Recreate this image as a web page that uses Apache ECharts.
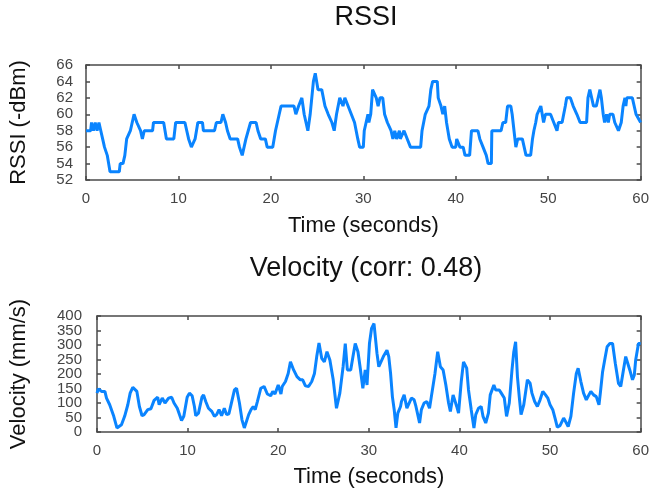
<!DOCTYPE html>
<html>
<head>
<meta charset="utf-8">
<script src="https://cdn.jsdelivr.net/npm/echarts@6/dist/echarts.min.js"></script>
<style>
html, body { margin:0; padding:0; background:#fff; }
#main { width:652px; height:493px; }
</style>
</head>
<body>
<div id="main"></div>
<script>
//RSSI数据 (时间, 值)
var rssiTime = [
	0,0.5,0.6,0.8,1.0,1.2,1.4,1.6,1.8,2.0,2.3,2.6,3.6,3.7,4.0,4.2,4.4,4.8,5.2,5.5,
	5.9,6.1,6.3,7.2,7.3,8.4,8.7,9.5,9.7,10.7,10.9,11.1,11.4,11.8,12.1,12.6,12.7,13.9,14.1,14.6,
	14.8,15.1,15.3,15.6,16.4,16.6,16.9,17.3,17.8,18.4,18.6,18.9,19.4,19.6,20.2,20.5,20.9,21.1,22.5,22.7,
	23.0,23.35,23.6,24.0,24.25,24.6,24.8,25.1,25.5,25.85,26.2,26.6,26.85,27.1,27.45,27.8,28.0,28.35,28.7,29.05,
	29.4,29.6,30.0,30.1,30.3,30.5,30.6,30.8,31.0,31.2,31.4,31.6,31.8,32.1,32.3,32.6,33.0,33.2,33.4,33.6,
	33.9,34.0,34.4,34.75,35.1,36.2,36.35,36.7,37.1,37.3,37.5,38.0,38.1,38.4,38.6,38.8,39.0,39.3,39.6,40.0,
	40.1,40.45,40.8,41.0,41.5,41.7,42.4,42.6,42.95,43.3,43.5,43.85,43.9,44.9,45.1,45.4,45.6,45.95,46.1,46.3,
	46.5,46.7,47.2,47.4,47.6,48.1,48.3,48.45,48.65,48.8,49.2,49.5,49.7,50.25,50.6,50.95,51.1,51.5,51.85,52.0,
	52.4,52.7,53.1,53.45,54.15,54.3,54.5,54.9,55.2,55.6,55.75,55.95,56.1,56.3,56.5,56.65,57.0,57.2,57.35,57.6,
	57.9,58.1,58.3,58.4,58.5,59.1,59.5,60
];
var rssiValue = [
	58,58,59,58,59,58,59,58,57,56,55,53,53,54,54,55,57,58,60,59,
	58,57,58,58,59,59,57,57,59,59,58,57,56,57,59,59,58,58,59,59,
	60,59,58,57,57,56,55,57,59,59,58,57,57,56,56,58,60,61,61,60,
	61,62,60,58,60,64,65,63,63,61,60,59,58,60,62,61,62,61,60,59,
	57,56,56,58,59,60,59,60,63,63,62,61,62,62,60,59,58,57,58,57,
	58,57,58,57,56,56,58,60,61,63,64,64,62,61,60,61,59,57,56,56,
	57,56,56,55,55,58,58,57,56,55,54,54,58,58,59,59,61,61,60,58,
	56,57,57,56,55,55,57,58,59,60,61,59,60,60,59,58,59,59,61,62,
	62,61,60,59,59,62,63,61,61,63,62,60,59,60,59,60,60,59,59,58,
	59,61,62,61,62,62,60,59
];

//速度数据 (时间, mm/s)
var velTime = [
	0,0.15,0.33,0.5,0.87,1.05,1.4,1.6,1.85,2.2,2.32,2.7,3.05,3.4,3.66,3.95,4.13,4.4,4.68,4.97,
	5.2,5.6,5.95,6.3,6.7,6.86,7.2,7.5,7.9,8.24,8.5,8.86,9.1,9.33,9.58,9.95,10.2,10.5,10.75,10.9,
	11.2,11.58,11.76,12.0,12.3,12.67,12.96,13.2,13.47,13.75,14.05,14.3,14.56,14.8,15.17,15.4,15.72,16.0,16.26,16.4,
	16.74,17.0,17.24,17.46,17.7,18.08,18.44,18.8,19.17,19.4,19.64,20.0,20.3,20.44,20.8,21.1,21.35,21.7,22.07,22.44,
	22.7,23.0,23.35,23.7,24.0,24.25,24.5,24.8,25.09,25.38,25.7,26.07,26.43,26.8,27.16,27.4,27.63,28.0,28.25,28.5,
	28.8,29.08,29.34,29.6,29.8,30.07,30.3,30.57,30.9,31.1,31.3,31.6,32.0,32.2,32.4,32.6,32.8,33.0,33.2,33.5,
	33.6,33.9,34.2,34.4,34.7,35.0,35.2,35.4,35.6,35.8,36.1,36.4,36.7,36.9,37.3,37.6,37.7,37.9,38.2,38.5,
	38.8,39.0,39.3,39.5,39.7,39.9,40.2,40.45,40.8,41.0,41.3,41.6,41.8,42.1,42.4,42.6,42.9,43.2,43.4,43.8,
	44.0,44.4,44.6,44.95,45.2,45.5,45.8,46.0,46.2,46.4,46.6,46.8,47.1,47.5,47.8,48.0,48.3,48.6,48.9,49.2,
	49.5,49.75,50.0,50.3,50.6,50.8,51.1,51.5,51.8,52.0,52.3,52.6,52.9,53.1,53.4,53.7,54.0,54.2,54.5,54.8,
	55.1,55.4,55.55,55.8,56.1,56.3,56.6,56.9,57.2,57.55,57.8,58.1,58.35,58.55,58.8,59.1,59.3,59.45,59.76,60
];
var velValue = [
	134,149,149,140,140,117,94,88,54,14,8,25,54,94,134,154,157,140,88,56,
	60,77,80,109,120,94,117,100,117,120,100,82,60,40,54,120,134,125,88,56,
	65,120,128,105,82,71,54,60,77,56,82,60,63,95,145,151,100,42,14,19,
	60,77,88,77,105,151,157,131,125,140,131,162,131,157,174,202,242,214,191,180,
	180,159,157,174,202,260,307,254,242,277,248,180,82,134,225,305,214,214,260,305,
	277,214,151,214,162,305,357,374,271,225,220,260,282,260,202,122,77,14,65,88,
	105,128,82,77,117,111,88,60,31,77,100,105,82,122,202,277,282,225,214,162,
	100,71,128,134,88,65,174,242,220,145,77,14,60,82,88,54,31,65,128,162,
	145,145,135,117,54,100,214,277,311,191,122,60,94,180,168,134,105,88,111,140,
	128,117,94,77,42,17,22,48,31,19,54,134,202,220,174,134,111,117,140,128,
	122,94,134,208,260,294,305,305,237,168,157,214,260,265,214,180,197,248,305,305
];

//刻度 [min, max, interval]
var timeTicks = [0, 60, 10];
var rssiTicks = [52, 66, 2];
var velTicks = [0, 400, 50];

var font = 'Liberation Sans, Arial, sans-serif';
var lineColor = '#0a84ff';
var frameColor = '#4a4a4a';
var labelColor = '#444';

function pairs( xs, ys )
{
	var out = [];
	for (var i = 0; i < xs.length; i++) {
		out.push([xs[i], ys[i]]);
	}
	return out;
}

//外框轴 (带内向刻度)
function frameAxis( pos, gridIndex, ticks, labels, name, nameGap, labelMargin )
{
	return {
		type : 'value',
		gridIndex : gridIndex,
		position : pos,
		min : ticks[0],
		max : ticks[1],
		interval : ticks[2],
		name : name,
		nameLocation : 'middle',
		nameGap : nameGap,
		nameTextStyle : { color:'#111', fontSize:22, fontFamily:font },
		axisLine : { show:true, onZero:false, lineStyle:{ color:frameColor, width:1.5 } },
		axisTick : { show:true, inside:true, length:4, lineStyle:{ color:frameColor, width:1.5 } },
		axisLabel : {
			show : labels,
			color : labelColor,
			fontSize : 15,
			fontFamily : font,
			margin : labelMargin,
			showMinLabel : true,
			showMaxLabel : true
		},
		splitLine : { show:false }
	};
}

//速度纵轴标签太密, ECharts 会藏掉首尾旁边的标签, 所以分两根轴各画一半
function halfLabels( axis, odd )
{
	axis.axisLabel.formatter = function (v) {
		var isOdd = (v / 50) % 2 == 1;
		return (isOdd == odd) ? String(v) : '';
	};
	if (odd) {
		axis.name = '';
		axis.axisLine.show = false;
		axis.axisTick.show = false;
		axis.axisLabel.showMinLabel = false;
		axis.axisLabel.showMaxLabel = false;
	}
	return axis;
}

var myChart = echarts.init(document.getElementById('main'));

var option = {
	backgroundColor : '#fff',
	animation : false,
	title : [
		{
			text : 'RSSI',
			left : 366, top : 4, padding : 0, textAlign : 'center',
			textStyle : { color:'#111', fontSize:27, fontWeight:'normal', fontFamily:font }
		},
		{
			text : 'Velocity (corr: 0.48)',
			left : 366, top : 255, padding : 0, textAlign : 'center',
			textStyle : { color:'#111', fontSize:27, fontWeight:'normal', fontFamily:font }
		}
	],
	grid : [
		{ left:85, top:65, right:7, height:115 },
		{ left:96, top:316, right:7, height:116 }
	],
	xAxis : [
		frameAxis('bottom', 0, timeTicks, true, 'Time (seconds)', 35, 11),
		frameAxis('top', 0, timeTicks, false, '', 0, 0),
		frameAxis('bottom', 1, timeTicks, true, 'Time (seconds)', 34, 11),
		frameAxis('top', 1, timeTicks, false, '', 0, 0)
	],
	yAxis : [
		frameAxis('left', 0, rssiTicks, true, 'RSSI (-dBm)', 56, 13),
		frameAxis('right', 0, rssiTicks, false, '', 0, 0),
		halfLabels(frameAxis('left', 1, velTicks, true, 'Velocity (mm/s)', 67, 15), false),
		frameAxis('right', 1, velTicks, false, '', 0, 0),
		halfLabels(frameAxis('left', 1, velTicks, true, '', 0, 15), true)
	],
	series : [
		{
			name : 'RSSI',
			type : 'line',
			xAxisIndex : 0,
			yAxisIndex : 0,
			showSymbol : false,
			data : pairs(rssiTime, rssiValue),
			lineStyle : { color:lineColor, width:3 }
		},
		{
			name : 'Velocity',
			type : 'line',
			xAxisIndex : 2,
			yAxisIndex : 2,
			showSymbol : false,
			data : pairs(velTime, velValue),
			lineStyle : { color:lineColor, width:3 }
		}
	]
};

myChart.setOption(option);
</script>
</body>
</html>
